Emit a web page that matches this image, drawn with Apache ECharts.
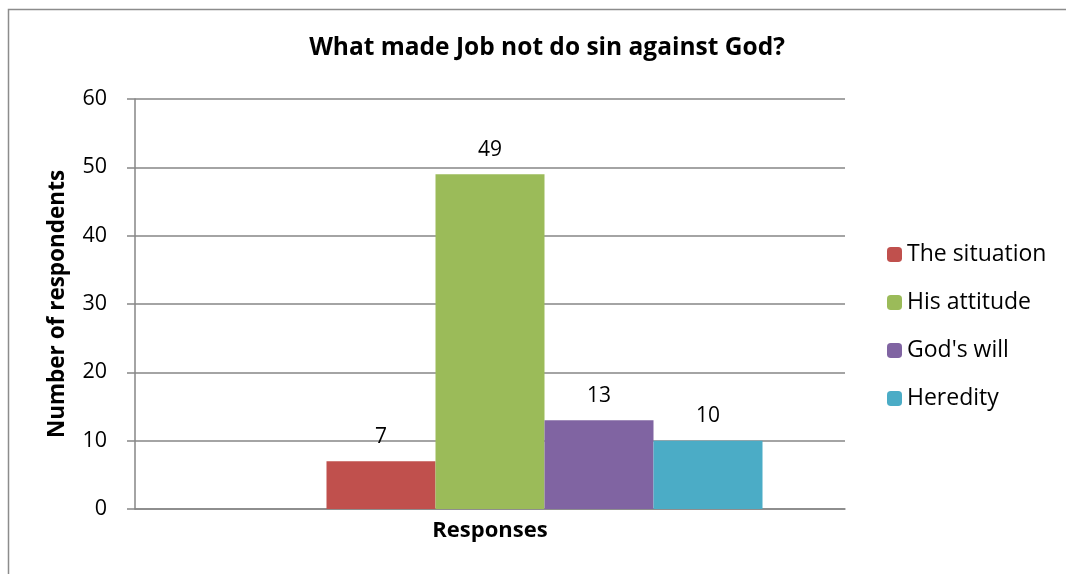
<!DOCTYPE html>
<html>
<head>
<meta charset="utf-8">
<script src="https://cdn.jsdelivr.net/npm/echarts@6/dist/echarts.min.js"></script>
<style>
html,body{margin:0;padding:0;background:#fff;}
#c{width:1066px;height:574px;}
</style>
</head>
<body>
<div id="c"></div>
<script>
var categories = ['Responses'];
var seriesNames = ['The situation', 'His attitude', "God's will", 'Heredity'];
var seriesValues = [[7], [49], [13], [10]];
var seriesColors = ['#C0504D', '#9BBB59', '#8064A2', '#4BACC6'];
var yTicks = [0, 10, 20, 30, 40, 50, 60];

var FONT = '"Open Sans", "Noto Sans", sans-serif';
var chart = echarts.init(document.getElementById('c'), null, {renderer: 'canvas'});

var series = [{
  name: '_blank', type: 'bar', data: ['-'], barWidth: 109, barGap: '0%',
  itemStyle: {color: 'rgba(0,0,0,0)'}, silent: true
}];
seriesNames.forEach(function (n, i) {
  series.push({
    name: n, type: 'bar', data: seriesValues[i], barWidth: 109, barGap: '0%',
    itemStyle: {color: seriesColors[i]},
    label: {show: true, position: 'top', distance: 14, color: '#000', fontSize: 21, fontFamily: FONT}
  });
});

chart.setOption({
  animation: false,
  backgroundColor: '#fff',
  title: {
    text: 'What made Job not do sin against God?',
    left: 542, top: 31, textAlign: 'center',
    textStyle: {fontFamily: FONT, fontWeight: 'bold', fontSize: 24.5, color: '#000'}
  },
  graphic: [{
    type: 'rect', shape: {x: 8.5, y: 9.5, width: 1100, height: 700},
    style: {fill: 'none', stroke: '#8c8c8c', lineWidth: 1.5}, silent: true
  }],
  legend: {
    data: seriesNames, orient: 'vertical', left: 882, top: 238,
    itemWidth: 15, itemHeight: 15, itemGap: 25,
    textStyle: {fontFamily: FONT, fontSize: 23, color: '#000', lineHeight: 21}
  },
  grid: {left: 135, right: 221, top: 99, bottom: 65, containLabel: false},
  xAxis: {
    type: 'category', data: categories,
    name: 'Responses', nameLocation: 'middle', nameGap: 11,
    nameTextStyle: {fontFamily: FONT, fontWeight: 'bold', fontSize: 22, color: '#000'},
    axisLine: {lineStyle: {color: '#868686', width: 1.5}},
    axisTick: {show: false}, axisLabel: {show: false}
  },
  yAxis: {
    type: 'value', min: yTicks[0], max: yTicks[yTicks.length - 1], interval: 10,
    name: 'Number of respondents', nameLocation: 'middle', nameRotate: 90, nameGap: 66,
    nameTextStyle: {fontFamily: FONT, fontWeight: 'bold', fontSize: 22.5, color: '#000'},
    axisLine: {show: true, lineStyle: {color: '#868686', width: 1.5}},
    axisTick: {show: true, length: 8, lineStyle: {color: '#868686', width: 1.5}},
    axisLabel: {fontFamily: FONT, fontSize: 21.5, color: '#000', margin: 28},
    splitLine: {lineStyle: {color: '#868686', width: 1.5}}
  },
  series: series
});
</script>
</body>
</html>
